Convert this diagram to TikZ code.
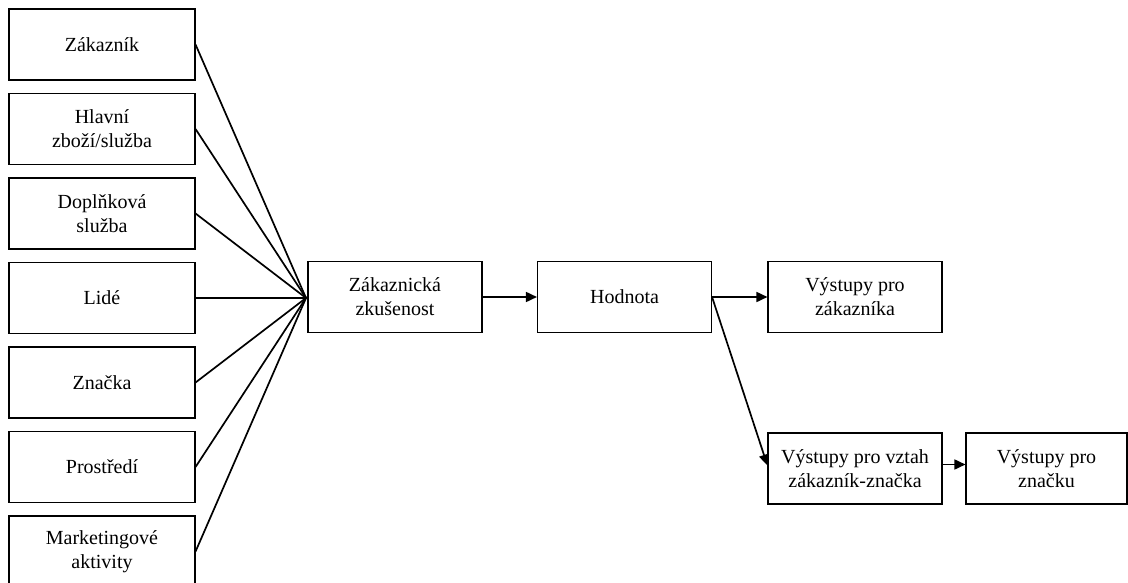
\documentclass[tikz,border=0pt]{standalone}
\usepackage{fontspec}
\setmainfont{Liberation Serif}
\usetikzlibrary{arrows.meta}
\begin{document}
\begin{tikzpicture}[x=1pt,y=-1pt,
  box/.style={draw, line width=1.1pt, minimum height=71pt, align=center,
    font=\fontsize{20}{24}\selectfont, inner sep=0pt},
  inbox/.style={box, minimum width=186pt},
  midbox/.style={box, minimum width=174pt},
  link/.style={line width=1.7pt},
  arr/.style={link, -{Triangle[length=11pt,width=10pt]}}]
\useasboundingbox (0,0) rectangle (1128,583);

% input factors
\node[inbox] (f1) at (102,44.5)  {Zákazník};
\node[inbox] (f2) at (102,129)   {Hlavní\\zboží/služba};
\node[inbox] (f3) at (102,213.5) {Doplňková\\služba};
\node[inbox] (f4) at (102,298)   {Lidé};
\node[inbox] (f5) at (102,382.5) {Značka};
\node[inbox] (f6) at (102,467)   {Prostředí};
\node[inbox] (f7) at (102,551.5) {Marketingové\\aktivity};

% main chain
\node[midbox] (zk) at (395,297)  {Zákaznická\\zkušenost};
\node[midbox] (ho) at (624.5,297) {Hodnota};
\node[midbox] (vz) at (855,297)  {Výstupy pro\\zákazníka};
\node[midbox] (vv) at (855,468.5) {Výstupy pro vztah\\zákazník-značka};
\node[box, minimum width=161pt] (vn) at (1046.5,468.5) {Výstupy pro\\značku};

% convergence point of the factors
\coordinate (c) at (306,298);
\foreach \i in {1,...,7}{
  \draw[link] (f\i.east) -- (c);
}
\draw[link] (c) -- (zk.west);

\draw[arr] (zk.east) -- (ho.west);
\draw[arr] (ho.east) -- (vz.west |- ho.east);
\draw[arr] (ho.east) -- ([yshift=3pt]vv.west);
\draw[arr] ([yshift=4pt]vv.east) -- ([yshift=4pt]vn.west);
\end{tikzpicture}
\end{document}
